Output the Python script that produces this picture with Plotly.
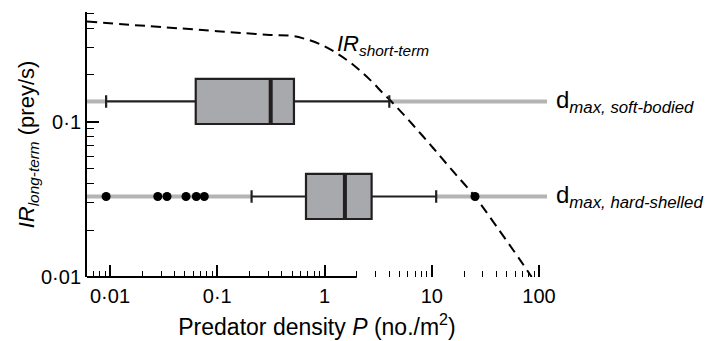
import numpy as np
import plotly.graph_objects as go

# ---------------- data ----------------
# short-term intake rate curve (dashed)
P_curve = [0.0061, 0.1, 0.31, 0.477, 0.634, 0.908, 1.30, 1.86, 2.66, 3.53, 4.38,
           6.69, 10.3, 15.4, 25.3, 40.3, 66.5, 85.5]
IR_curve = [0.441, 0.383, 0.362, 0.358, 0.344, 0.316, 0.276, 0.232, 0.186, 0.152, 0.131,
            0.0952, 0.0677, 0.0489, 0.0329, 0.0211, 0.0129, 0.0100]

# d_max levels (long-term intake rate)
dmax_names = ["soft-bodied", "hard-shelled"]
dmax_values = [0.135, 0.033]

# predator density box statistics for each prey type
box_lower = [0.0092, 0.209]
box_q1 = [0.063, 0.672]
box_median = [0.315, 1.55]
box_q3 = [0.519, 2.75]
box_upper = [4.02, 11.0]

# outliers (hard-shelled)
outliers_hard = [0.0092, 0.0279, 0.034, 0.0511, 0.0638, 0.0757, 25.3]

x_tickvals = [0.01, 0.1, 1, 10, 100]
x_ticktext = ["0·01", "0·1", "1", "10", "100"]
y_tickvals = [0.01, 0.1]
y_ticktext = ["0·01", "0·1"]

# ---------------- style ----------------
FONT = "Liberation Sans, Arial, Helvetica, sans-serif"
X_RANGE = [-2.2145, 2.0746]   # log10 units
Y_RANGE = [-2.0, -0.2936]     # log10 units
GRAY = "#b4b4b4"
DARK = "#231f20"
BOX_FILL = "#a7a9ac"
BOX_W = 0.29                  # in log10 units of y

def minor_vals(lo, hi):
    vals = []
    for e in range(-3, 3):
        for m in range(2, 10):
            v = m * 10.0 ** e
            if lo <= np.log10(v) <= hi:
                vals.append(v)
    return vals

fig = go.Figure()

# gray d_max lines (outside whiskers)
x_left = 10 ** X_RANGE[0]
x_right = 10 ** X_RANGE[1]
for d, lo, hi in zip(dmax_values, box_lower, box_upper):
    fig.add_trace(go.Scatter(x=[x_left, lo], y=[d, d], mode="lines",
                             line=dict(color=GRAY, width=4), showlegend=False, hoverinfo="skip"))
    fig.add_trace(go.Scatter(x=[hi, x_right * 1.2], y=[d, d], mode="lines",
                             line=dict(color=GRAY, width=4), showlegend=False, hoverinfo="skip"))

# boxes on a linear overlay axis measured in log10 units
for i, d in enumerate(dmax_values):
    pos = float(np.log10(d))
    fig.add_trace(go.Box(
        orientation="h", y=[pos], q1=[box_q1[i]], median=[box_median[i]], q3=[box_q3[i]],
        lowerfence=[box_lower[i]], upperfence=[box_upper[i]],
        width=BOX_W, whiskerwidth=0.28, fillcolor=BOX_FILL,
        line=dict(color=DARK, width=2.2), boxpoints=False,
        xaxis="x", yaxis="y2", showlegend=False, hoverinfo="skip"))
    # thicker median line
    fig.add_trace(go.Scatter(x=[box_median[i], box_median[i]],
                             y=[pos - BOX_W / 2, pos + BOX_W / 2], mode="lines",
                             line=dict(color=DARK, width=4), xaxis="x", yaxis="y2",
                             showlegend=False, hoverinfo="skip"))

# outliers
fig.add_trace(go.Scatter(x=outliers_hard, y=[dmax_values[1]] * len(outliers_hard), mode="markers",
                         marker=dict(color="black", size=9), showlegend=False, hoverinfo="skip"))

# dashed short-term curve
fig.add_trace(go.Scatter(x=P_curve, y=IR_curve, mode="lines",
                         line=dict(color="black", width=2, dash="10px,6px", shape="spline", smoothing=1.0),
                         showlegend=False, hoverinfo="skip"))

# x axis line ending at 100
fig.add_shape(type="line", xref="x", yref="paper", x0=X_RANGE[0], x1=np.log10(100), y0=0, y1=0,
              line=dict(color="black", width=2))

# labels
for name, d in zip(dmax_names, dmax_values):
    fig.add_annotation(xref="paper", yref="y", x=1.015, y=float(np.log10(d)), xanchor="left",
                       yanchor="middle", showarrow=False,
                       text="d<sub><i>max, " + name + "</i></sub>",
                       font=dict(family=FONT, size=24, color="black"))
fig.add_annotation(xref="x", yref="y", x=float(np.log10(1.25)), y=float(np.log10(0.31)),
                   xanchor="left", yanchor="middle", showarrow=False,
                   text="<i>IR</i><sub><i>short-term</i></sub>",
                   font=dict(family=FONT, size=22, color="black"))

fig.update_layout(
    width=711, height=341,
    margin=dict(l=87, r=164, t=12, b=64, autoexpand=False),
    paper_bgcolor="white", plot_bgcolor="white",
    font=dict(family=FONT, color="black"),
    xaxis=dict(type="log", range=X_RANGE, showline=False, zeroline=False, showgrid=False,
               automargin=False,
               tickmode="array", tickvals=x_tickvals, ticktext=x_ticktext,
               ticks="inside", ticklen=12, tickwidth=1.6, tickcolor="black",
               ticklabelstandoff=5,
               tickfont=dict(family=FONT, size=20, color="black"),
               minor=dict(tickmode="array", tickvals=minor_vals(X_RANGE[0], 2.0),
                          ticks="inside", ticklen=6, tickwidth=1.3, tickcolor="black", showgrid=False),
               title=dict(text="Predator density <i>P</i> (no./m<sup>2</sup>)",
                          font=dict(family=FONT, size=23, color="black"), standoff=12)),
    yaxis=dict(type="log", range=Y_RANGE, showline=True, linecolor="black", linewidth=2,
               zeroline=False, showgrid=False, automargin=False,
               tickmode="array", tickvals=y_tickvals, ticktext=y_ticktext,
               ticks="inside", ticklen=12, tickwidth=1.6, tickcolor="black",
               tickfont=dict(family=FONT, size=20, color="black"),
               minor=dict(tickmode="array", tickvals=minor_vals(Y_RANGE[0], Y_RANGE[1]),
                          ticks="inside", ticklen=7, tickwidth=1.3, tickcolor="black", showgrid=False),
               title=dict(text="<i>IR</i><sub><i>long-term</i></sub> (prey/s)",
                          font=dict(family=FONT, size=22, color="black"), standoff=0)),
    yaxis2=dict(overlaying="y", range=Y_RANGE, visible=False, showgrid=False, zeroline=False),
    showlegend=False,
)

fig.write_html("out.html")
